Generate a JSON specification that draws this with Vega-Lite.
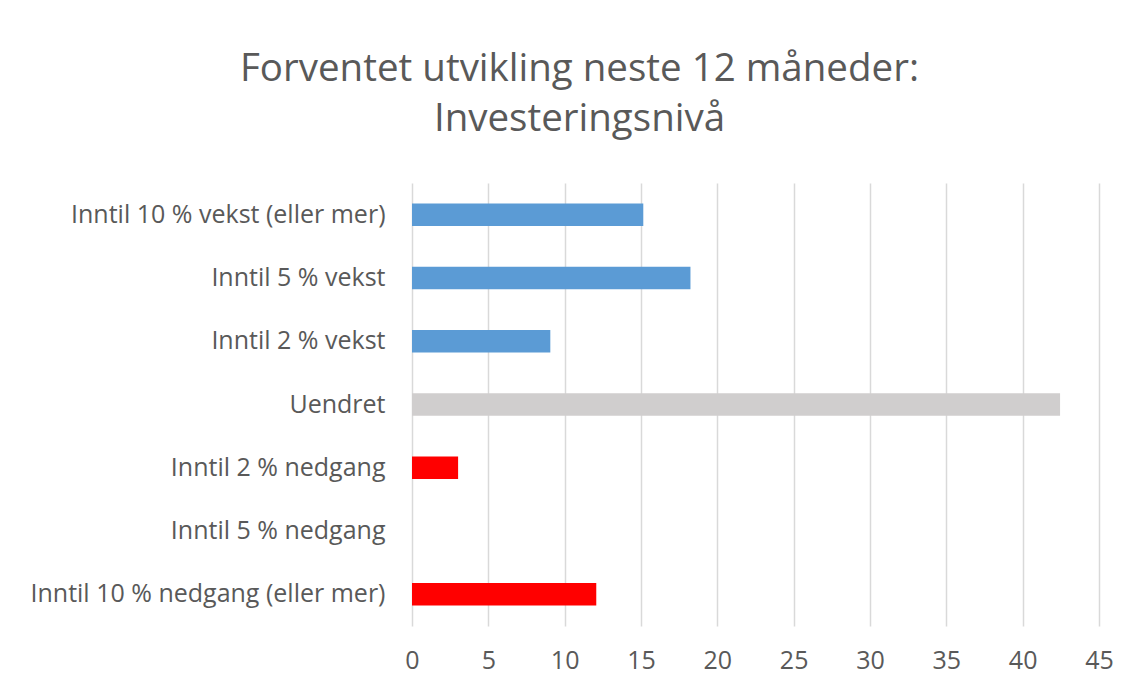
{
  "$schema": "https://vega.github.io/schema/vega-lite/v6.json",
  "width": 687,
  "height": 443,
  "autosize": {"type": "none"},
  "padding": {"left": 412, "top": 183, "right": 37, "bottom": 62},
  "background": "white",
  "title": {
    "text": ["Forventet utvikling neste 12 måneder:", "Investeringsnivå"],
    "font": "Open Sans",
    "fontSize": 38.5,
    "fontWeight": "normal",
    "color": "#595959",
    "lineHeight": 50,
    "anchor": "middle",
    "frame": "group",
    "dx": -176,
    "offset": 44
  },
  "data": {
    "values": [
      {"category": "Inntil 10 % vekst (eller mer)", "value": 15.15, "group": "vekst"},
      {"category": "Inntil 5 % vekst", "value": 18.24, "group": "vekst"},
      {"category": "Inntil 2 % vekst", "value": 9.06, "group": "vekst"},
      {"category": "Uendret", "value": 42.45, "group": "uendret"},
      {"category": "Inntil 2 % nedgang", "value": 3.02, "group": "nedgang"},
      {"category": "Inntil 5 % nedgang", "value": 0, "group": "nedgang"},
      {"category": "Inntil 10 % nedgang (eller mer)", "value": 12.07, "group": "nedgang"}
    ]
  },
  "mark": {"type": "bar"},
  "encoding": {
    "y": {
      "field": "category",
      "type": "nominal",
      "sort": null,
      "scale": {"paddingInner": 0.645, "paddingOuter": 0.3225},
      "axis": {
        "title": null,
        "domain": false,
        "ticks": false,
        "grid": false,
        "labelFont": "Open Sans",
        "labelFontSize": 25,
        "labelColor": "#595959",
        "labelPadding": 27,
        "labelLimit": 500
      }
    },
    "x": {
      "field": "value",
      "type": "quantitative",
      "scale": {"domain": [0, 45], "nice": false},
      "axis": {
        "title": null,
        "values": [0, 5, 10, 15, 20, 25, 30, 35, 40, 45],
        "domain": false,
        "ticks": false,
        "grid": true,
        "gridColor": "#D9D9D9",
        "gridWidth": 1.5,
        "labelFont": "Open Sans",
        "labelFontSize": 25,
        "labelColor": "#595959",
        "labelPadding": 22,
        "labelFlush": false,
        "labelOverlap": false
      }
    },
    "color": {
      "field": "group",
      "type": "nominal",
      "scale": {"domain": ["vekst", "uendret", "nedgang"], "range": ["#5B9BD5", "#D0CECE", "#FF0000"]},
      "legend": null
    }
  },
  "config": {"view": {"stroke": null}}
}
